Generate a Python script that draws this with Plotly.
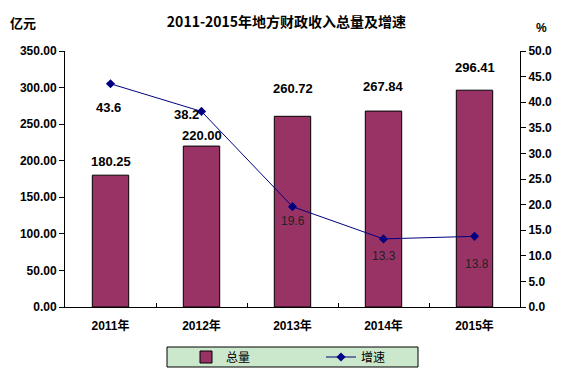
import plotly.graph_objects as go

years = ["2011年", "2012年", "2013年", "2014年", "2015年"]
total = [180.25, 220.00, 260.72, 267.84, 296.41]
growth = [43.6, 38.2, 19.6, 13.3, 13.8]
total_labels = ["180.25", "220.00", "260.72", "267.84", "296.41"]
growth_labels = ["43.6", "38.2", "19.6", "13.3", "13.8"]

FONT = "Liberation Sans, Noto Sans CJK SC, sans-serif"
CJK = "Noto Sans CJK SC, sans-serif"

L, R, T, B = 65, 520, 51, 307
W, H = 573, 373


def px(x):
    return (x - L) / (R - L)


def py(y):
    return (B - y) / (B - T)


fig = go.Figure()
fig.add_trace(go.Bar(
    x=years, y=total, name="总量", width=0.4,
    marker=dict(color="#993366", line=dict(color="black", width=1)),
))
fig.add_trace(go.Scatter(
    x=years, y=growth, name="增速", yaxis="y2", mode="lines+markers",
    line=dict(color="#000080", width=1),
    marker=dict(symbol="diamond", size=7, color="#000080"),
))

bar_shift = [14, 11, 28, 25, 23]
for x, y, t, s in zip(years, total, total_labels, bar_shift):
    fig.add_annotation(x=x, y=y, yref="y", text=t, showarrow=False,
                       yshift=s, font=dict(family=FONT, size=13, color="black", weight="bold"))

line_shift = [(-2, -24, "bold"), (-15, -3, "bold"), (0, -14, "normal"), (0, -17, "normal"), (2, -28, "normal")]
for x, y, t, (dx, dy, w) in zip(years, growth, growth_labels, line_shift):
    fig.add_annotation(x=x, y=y, yref="y2", text=t, showarrow=False,
                       xshift=dx, yshift=dy,
                       font=dict(family=FONT, size=13 if w == "bold" else 12,
                                 color="black" if w == "bold" else "#222222", weight=w))

fig.add_annotation(x=px(23), y=py(22), xref="paper", yref="paper", text="亿元", showarrow=False,
                   xanchor="center", yanchor="middle",
                   font=dict(family=CJK, size=13, color="black", weight="bold"))
fig.add_annotation(x=px(541), y=py(28), xref="paper", yref="paper", text="%", showarrow=False,
                   xanchor="center", yanchor="middle",
                   font=dict(family=FONT, size=12, color="black", weight="bold"))

# legend box
fig.add_shape(type="rect", xref="paper", yref="paper",
              x0=px(167), x1=px(418), y0=py(347), y1=py(367),
              fillcolor="#cce8cc", line=dict(color="black", width=1), layer="below")

fig.update_layout(
    width=W, height=H,
    margin=dict(l=L, r=W - R, t=T, b=H - B, autoexpand=False),
    paper_bgcolor="white", plot_bgcolor="rgba(0,0,0,0)",
    title=dict(text="2011-2015年地方财政收入总量及增速", x=0.5, xanchor="center",
               y=1 - 22 / H, yanchor="middle",
               font=dict(family=CJK, size=14, color="black", weight="bold")),
    showlegend=True,
    legend=dict(orientation="h", x=px(186), xanchor="left", y=py(357), yanchor="middle",
                bgcolor="rgba(0,0,0,0)", borderwidth=0,
                font=dict(family=CJK, size=12, color="black"),
                entrywidth=90, itemwidth=30),
    xaxis=dict(type="category", showline=True, linecolor="black", linewidth=1,
               ticks="inside", tickson="boundaries", ticklen=4, tickcolor="black",
               showgrid=False, mirror=False, ticklabelstandoff=8,
               tickfont=dict(family=FONT, size=12, color="black", weight="bold")),
    yaxis=dict(range=[0, 350], dtick=50, tickformat=".2f", showline=True,
               linecolor="black", linewidth=1, ticks="outside", ticklen=5,
               tickcolor="black", showgrid=False, zeroline=False,
               tickfont=dict(family=FONT, size=12, color="black", weight="bold")),
    yaxis2=dict(range=[0, 50], dtick=5, tickformat=".1f", overlaying="y", side="right",
                showline=True, linecolor="black", linewidth=1, ticks="outside",
                ticklen=5, tickcolor="black", showgrid=False, zeroline=False,
                tickfont=dict(family=FONT, size=12, color="black", weight="bold")),
)

fig.write_html("out.html", config={"displayModeBar": False},
               post_script="document.body.style.margin='0px';")
